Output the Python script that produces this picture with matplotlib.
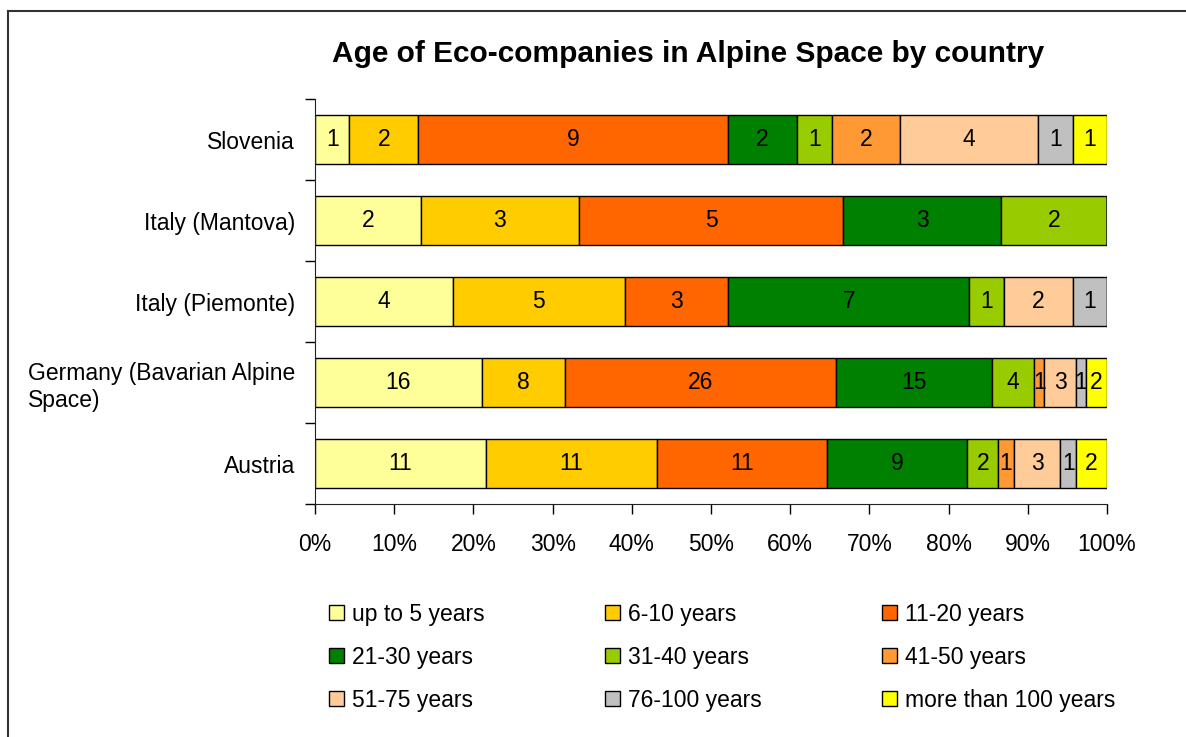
import numpy as np
import matplotlib
matplotlib.use('Agg')
import matplotlib.pyplot as plt
from matplotlib.lines import Line2D

plt.rcParams['font.family'] = ['Liberation Sans', 'DejaVu Sans']

# --- data ---
countries = ['Slovenia', 'Italy (Mantova)', 'Italy (Piemonte)',
             'Germany (Bavarian Alpine\nSpace)', 'Austria']
age_groups = ['up to 5 years', '6-10 years', '11-20 years', '21-30 years', '31-40 years',
              '41-50 years', '51-75 years', '76-100 years', 'more than 100 years']
slovenia = [1, 2, 9, 2, 1, 2, 4, 1, 1]
mantova = [2, 3, 5, 3, 2, 0, 0, 0, 0]
piemonte = [4, 5, 3, 7, 1, 0, 2, 1, 0]
germany = [16, 8, 26, 15, 4, 1, 3, 1, 2]
austria = [11, 11, 11, 9, 2, 1, 3, 1, 2]
colors = ['#FFFF99', '#FFCC00', '#FF6600', '#008000', '#99CC00',
          '#FF9933', '#FFCC99', '#C0C0C0', '#FFFF00']

counts = np.array([slovenia, mantova, piemonte, germany, austria], dtype=float)
shares = counts / counts.sum(axis=1, keepdims=True)

fig = plt.figure(figsize=(11.86, 7.37), dpi=100)
ax = fig.add_axes([0.2656, 0.3161, 0.6678, 0.5495])

y = np.arange(len(countries))[::-1]
left = np.zeros(len(countries))
handles = []
for j, grp in enumerate(age_groups):
    bars = ax.barh(y, shares[:, j], left=left, height=0.6, color=colors[j],
                   edgecolor='black', linewidth=1.0, label=grp)
    labels = [str(int(v)) if v > 0 else '' for v in counts[:, j]]
    ax.bar_label(bars, labels=labels, label_type='center', fontsize=16.5)
    handles.append(bars)
    left += shares[:, j]

ax.set_xlim(0, 1)
ax.set_ylim(-0.5, len(countries) - 0.5)
ax.set_xticks(np.arange(0, 1.01, 0.1))
ax.set_xticklabels([f'{int(round(t * 100))}%' for t in np.arange(0, 1.01, 0.1)], fontsize=16.5)
ax.tick_params(axis='x', direction='out', length=7, width=1, pad=13.5)

ax.set_yticks(y)
ax.set_yticklabels(countries, fontsize=16.5)
for lab in ax.get_yticklabels():
    lab.set_multialignment('left')
ax.tick_params(axis='y', which='major', length=0, pad=14.5)
ax.set_yticks(np.arange(-0.5, len(countries), 1.0), minor=True)
ax.tick_params(axis='y', which='minor', direction='out', length=7, width=1)

ax.spines['top'].set_visible(False)
ax.spines['right'].set_visible(False)
ax.spines['left'].set_color('#222222')
ax.spines['bottom'].set_color('#222222')

# legend: row-major order in 3 columns
order = [0, 3, 6, 1, 4, 7, 2, 5, 8]
leg = fig.legend([handles[i] for i in order], [age_groups[i] for i in order],
                 ncol=3, loc='upper left', bbox_to_anchor=(0.2776, 0.182),
                 frameon=False, fontsize=16.5, handlelength=0.65, handleheight=0.65,
                 handletextpad=0.35, columnspacing=5.25, labelspacing=0.87,
                 borderaxespad=0, borderpad=0)

fig.text(0.58, 0.927, 'Age of Eco-companies in Alpine Space by country',
         ha='center', va='center', fontsize=21.5, fontweight='bold')

# outer frame (left and top edges visible)
fig.add_artist(Line2D([8 / 1186, 8 / 1186], [0, 1 - 11 / 737], color='#333333', lw=1.5))
fig.add_artist(Line2D([8 / 1186, 1], [1 - 11 / 737, 1 - 11 / 737], color='#333333', lw=1.5))

fig.savefig('out.png', dpi=100)
